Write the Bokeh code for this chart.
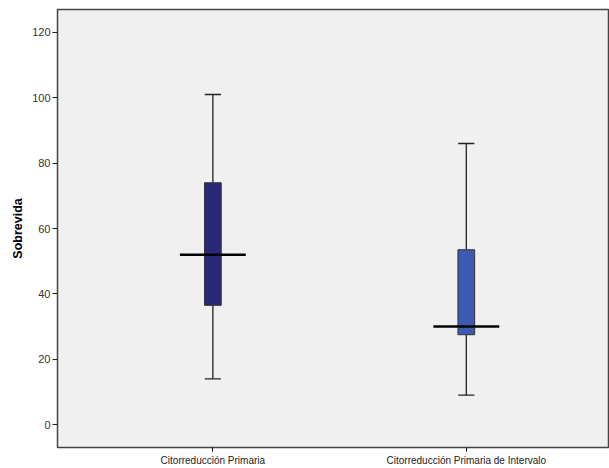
from bokeh.plotting import figure
from bokeh.models import FixedTicker, ColumnDataSource
from bokeh.embed import file_html
from bokeh.resources import INLINE

categories = ["Citorreducción Primaria", "Citorreducción Primaria de Intervalo"]
positions = [1, 2]
lower_whisker = [14, 9]
q1 = [36.5, 27.5]
median = [52, 30]
q3 = [74, 53.5]
upper_whisker = [101, 86]
box_colors = ["#28297a", "#3d5bb2"]
y_ticks = [0, 20, 40, 60, 80, 100, 120]

p = figure(width=609, height=468, output_backend="svg", toolbar_location=None,
           x_range=(0.387, 2.565), y_range=(-7, 127),
           min_border_left=57, min_border_right=0, min_border_top=9, min_border_bottom=21)

p.background_fill_color = "#f0f0f0"
p.border_fill_color = "white"
p.outline_line_color = "#444444"
p.outline_line_width = 1.5
p.xgrid.visible = False
p.ygrid.visible = False

cap_half = 0.032
box_half = 0.033
med_half = 0.13

src = ColumnDataSource(dict(
    x=positions, lw=lower_whisker, q1=q1, med=median, q3=q3, uw=upper_whisker,
    color=box_colors,
    cap_l=[x - cap_half for x in positions], cap_r=[x + cap_half for x in positions],
    med_l=[x - med_half for x in positions], med_r=[x + med_half for x in positions],
))

# whiskers
p.segment(x0="x", y0="q3", x1="x", y1="uw", source=src, line_color="#222222", line_width=1.3)
p.segment(x0="x", y0="lw", x1="x", y1="q1", source=src, line_color="#222222", line_width=1.3)
# caps
p.segment(x0="cap_l", y0="uw", x1="cap_r", y1="uw", source=src, line_color="#222222", line_width=1.3)
p.segment(x0="cap_l", y0="lw", x1="cap_r", y1="lw", source=src, line_color="#222222", line_width=1.3)
# boxes
p.vbar(x="x", width=2 * box_half, bottom="q1", top="q3", source=src,
       fill_color="color", line_color="#333333", line_width=1)
# medians
p.segment(x0="med_l", y0="med", x1="med_r", y1="med", source=src, line_color="black", line_width=2.5)

# axes
p.xaxis.ticker = FixedTicker(ticks=positions)
p.xaxis.major_label_overrides = {pos: cat for pos, cat in zip(positions, categories)}
p.xaxis.major_label_text_font = "Liberation Sans"
p.xaxis.major_label_text_font_size = "10px"
p.xaxis.major_label_text_color = "#222222"
p.xaxis.major_tick_in = 0
p.xaxis.major_tick_out = 4
p.xaxis.minor_tick_line_color = None
p.xaxis.axis_line_color = "#444444"
p.xaxis.major_label_standoff = 3

p.yaxis.ticker = FixedTicker(ticks=y_ticks)
p.yaxis.axis_label = "Sobrevida"
p.yaxis.axis_label_text_font = "Liberation Sans"
p.yaxis.axis_label_text_font_style = "bold"
p.yaxis.axis_label_text_font_size = "12.5px"
p.yaxis.axis_label_text_color = "black"
p.yaxis.axis_label_standoff = 4
p.yaxis.major_label_text_font = "Liberation Sans"
p.yaxis.major_label_text_font_size = "11px"
p.yaxis.major_label_text_color = "#333333"
p.yaxis.major_tick_in = 0
p.yaxis.major_tick_out = 5
p.yaxis.major_tick_line_color = "#222222"
p.yaxis.minor_tick_line_color = None
p.yaxis.axis_line_color = "#444444"
p.yaxis.major_label_standoff = 2

open("out.html", "w").write(file_html(p, INLINE))
